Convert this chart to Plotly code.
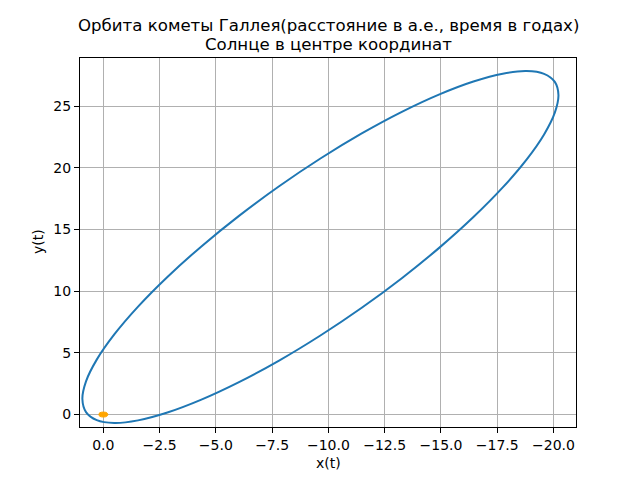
import plotly.graph_objects as go

# Orbit points (AU)
orbit_x = [0.930, 0.769, 0.292, -0.487, -1.544, -2.847, -4.357, -6.028, -7.809, -9.645,
           -11.481, -13.262, -14.933, -16.443, -17.746, -18.803, -19.582, -20.059, -20.220,
           -20.059, -19.582, -18.803, -17.746, -16.443, -14.933, -13.262, -11.481, -9.645,
           -7.809, -6.028, -4.357, -2.847, -1.544, -0.487, 0.292, 0.769, 0.930]
orbit_y = [1.254, 2.687, 4.450, 6.490, 8.747, 11.149, 13.625, 16.100, 18.497, 20.745,
           22.777, 24.527, 25.945, 26.988, 27.622, 27.830, 27.605, 26.953, 25.896,
           24.463, 22.700, 20.660, 18.403, 16.001, 13.525, 11.050, 8.653, 6.405,
           4.373, 2.623, 1.205, 0.162, -0.472, -0.680, -0.455, 0.197, 1.254]

sun_x = 0.0
sun_y = 0.0
sun_r = 0.2

x_ticks = [0.0, -2.5, -5.0, -7.5, -10.0, -12.5, -15.0, -17.5, -20.0]
y_ticks = [0, 5, 10, 15, 20, 25]

def fmt(v):
    s = f"{abs(v):.1f}"
    return ("\u2212" + s) if v < 0 else s

FONT = "DejaVu Sans"

fig = go.Figure()
fig.add_trace(go.Scatter(x=orbit_x, y=orbit_y, mode="lines",
                         line=dict(color="#1f77b4", width=2, shape="spline", smoothing=1.0),
                         showlegend=False, hoverinfo="skip"))

fig.add_shape(type="circle", xref="x", yref="y",
              x0=sun_x - sun_r, x1=sun_x + sun_r, y0=sun_y - sun_r, y1=sun_y + sun_r,
              fillcolor="#ffa500", line=dict(color="#ffa500", width=1))

fig.update_layout(
    width=640, height=480,
    margin=dict(l=80, r=64, t=58, b=53, autoexpand=False),
    paper_bgcolor="white", plot_bgcolor="white",
    font=dict(family=FONT, size=14, color="black"),
    showlegend=False,
)
fig.update_xaxes(range=[1.036, -21.0], tickvals=x_ticks, ticktext=[fmt(v) for v in x_ticks],
                 showgrid=True, gridcolor="#b0b0b0", gridwidth=1, automargin=False,
                 showline=True, linecolor="black", linewidth=1, mirror=True,
                 ticks="outside", ticklen=5, tickcolor="black", tickwidth=1,
                 zeroline=False, tickfont=dict(family=FONT, size=14))
fig.update_yaxes(range=[-1.01, 28.89], tickvals=y_ticks, ticktext=[str(v) for v in y_ticks],
                 showgrid=True, gridcolor="#b0b0b0", gridwidth=1, automargin=False,
                 showline=True, linecolor="black", linewidth=1, mirror=True,
                 ticks="outside", ticklen=5, tickcolor="black", tickwidth=1,
                 zeroline=False, tickfont=dict(family=FONT, size=14))

def py2paper(py):
    return (427.2 - py) / 369.6

def px2paper(px):
    return (px - 80) / 496.0

fig.add_annotation(text="Орбита кометы Галлея(расстояние в а.е., время в годах)",
                   xref="paper", yref="paper", x=0.5, y=py2paper(25.5), xanchor="center", yanchor="middle",
                   showarrow=False, font=dict(family=FONT, size=16.6, color="black"))
fig.add_annotation(text="Солнце в центре координат",
                   xref="paper", yref="paper", x=0.5, y=py2paper(44.5), xanchor="center", yanchor="middle",
                   showarrow=False, font=dict(family=FONT, size=16.6, color="black"))
fig.add_annotation(text="x(t)", xref="paper", yref="paper", x=0.5, y=py2paper(463),
                   xanchor="center", yanchor="middle", showarrow=False,
                   font=dict(family=FONT, size=14, color="black"))
fig.add_annotation(text="y(t)", xref="paper", yref="paper", x=px2paper(38), y=py2paper(242),
                   xanchor="center", yanchor="middle", showarrow=False, textangle=-90,
                   font=dict(family=FONT, size=14, color="black"))

fig.write_html("out.html", config={"displayModeBar": False},
               post_script="document.body.style.margin='0';document.body.style.overflow='hidden';")
